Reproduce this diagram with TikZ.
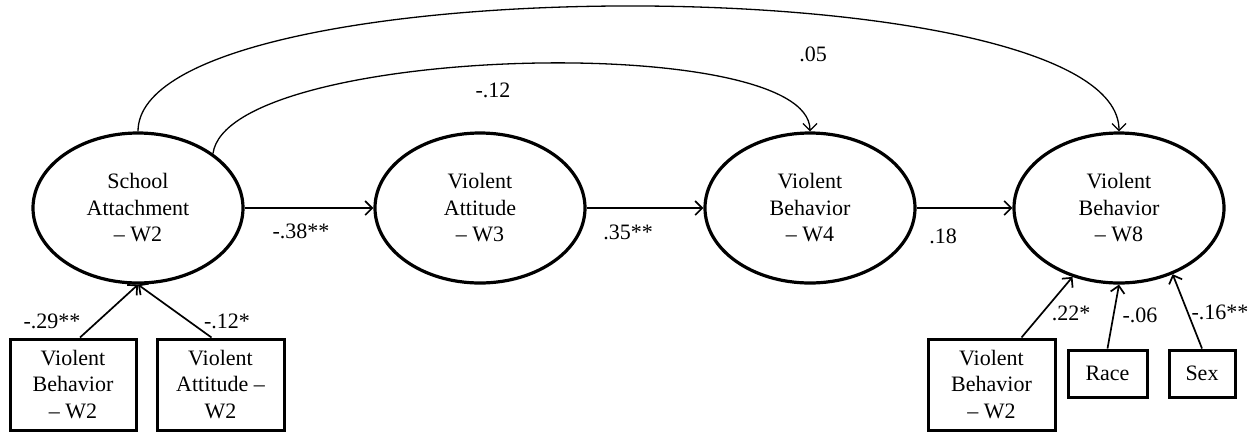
\documentclass[tikz,border=0pt]{standalone}
\usepackage{fontspec}
\setmainfont{Liberation Serif}
\usetikzlibrary{arrows.meta,shapes.geometric}
\newcommand\dfont{\fontsize{22}{26.5}\selectfont}
\begin{document}
\begin{tikzpicture}[x=1pt,y=-1pt,
  latent/.style={ellipse,draw,line width=3.2pt,minimum width=210pt,minimum height=150pt,inner sep=0pt,align=center,font=\dfont},
  obs/.style={draw,line width=3pt,inner sep=0pt,align=center,font=\dfont},
  conn/.style={line width=1.7pt,-{Straight Barb[length=7pt,width=14pt]}},
  curved/.style={conn,line width=1.3pt},
  coef/.style={font=\dfont,inner sep=0pt}]
\useasboundingbox (0,0) rectangle (1258,432);
% latent variables
\node[latent] (sa) at (138,208) {School\\Attachment\\– W2};
\node[latent] (va) at (480,208) {Violent\\Attitude\\– W3};
\node[latent] (w4) at (810,208) {Violent\\Behavior\\– W4};
\node[latent] (w8) at (1119,208) {Violent\\Behavior\\– W8};
% observed variables
\node[obs,minimum width=126pt,minimum height=91pt] (b1) at (73,384.5) {Violent\\Behavior\\– W2};
\node[obs,minimum width=127pt,minimum height=91pt] (b2) at (220.5,384.5) {Violent\\Attitude –\\W2};
\node[obs,minimum width=127pt,minimum height=91pt] (rb) at (991.5,384.5) {Violent\\Behavior\\– W2};
\node[obs,minimum width=79pt,minimum height=47pt] (race) at (1107.5,373.5) {Race};
\node[obs,minimum width=66pt,minimum height=47pt] (sex) at (1202,373.5) {Sex};
% paths
\draw[conn] (sa.east) -- (va.west);
\draw[conn] (va.east) -- (w4.west);
\draw[conn] (w4.east) -- (w8.west);
\draw[conn] ([xshift=7pt]b1.north) -- (sa.south);
\draw[conn] ([xshift=-9pt]b2.north) -- (sa.south);
\draw[conn] ([xshift=30pt]rb.north) -- (w8.236);
\draw[conn] (race.north) -- (w8.south);
\draw[conn] (sex.north) -- (w8.309);
\draw[curved] (sa.north) .. controls +(0,-167) and +(0,-167) .. (w8.north);
\draw[curved] (sa.36) .. controls (228,45) and (810,30) .. (w4.north);
% coefficients
\node[coef] (c1) at (301,231) {-.38**};
\node[coef] (c2) at (628,232) {.35**};
\node[coef] (c3) at (943,236) {.18};
\node[coef] (c4) at (52,321) {-.29**};
\node[coef] (c5) at (227,321) {-.12*};
\node[coef] (c6) at (1071,313) {.22*};
\node[coef] (c7) at (1140,315) {-.06};
\node[coef] (c8) at (1220,312) {-.16**};
\node[coef] (c9) at (813,54) {.05};
\node[coef] (c10) at (493,90) {-.12};
\end{tikzpicture}
\end{document}
